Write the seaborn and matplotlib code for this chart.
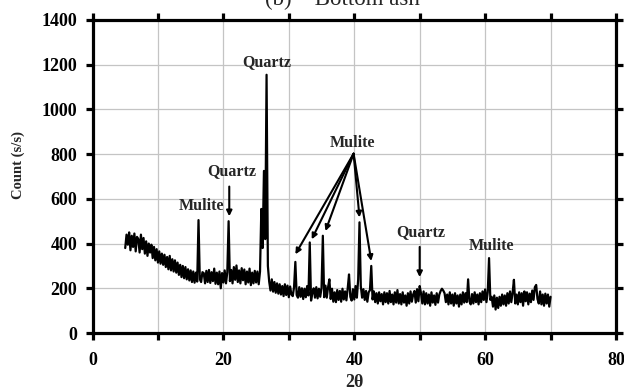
import numpy as np
import pandas as pd
import matplotlib
matplotlib.use("Agg")
import matplotlib.pyplot as plt
import seaborn as sns

# ---- data ----
scan_start = 5.0
scan_step = 0.2
counts = [
    380, 440, 395, 450, 370, 435, 385, 445, 365, 430,   # 5.0 - 6.8
    420, 360, 440, 375, 425, 355, 410, 345, 400, 360,   # 7.0 - 8.8
    395, 335, 385, 325, 375, 315, 365, 310, 355, 305,   # 9.0 - 10.8
    350, 295, 340, 285, 345, 280, 330, 275, 325, 270,   # 11.0 - 12.8
    315, 260, 305, 250, 300, 245, 295, 240, 285, 235,   # 13.0 - 14.8
    280, 228, 275, 225, 270, 230, 505, 240, 228, 272,   # 15.0 - 16.8
    268, 222, 278, 228, 282, 224, 272, 232, 288, 220,   # 17.0 - 18.8
    270, 218, 275, 200, 268, 226, 280, 222, 272, 500,   # 19.0 - 20.8
    232, 282, 222, 295, 238, 302, 228, 280, 222, 290,   # 21.0 - 22.8
    236, 284, 218, 275, 226, 288, 214, 270, 222, 278,   # 23.0 - 24.8
    226, 275, 218, 275, 555, 380, 725, 420, 1155, 300,  # 25.0 - 26.8
    230, 190, 240, 185, 228, 180, 222, 176, 218, 172,   # 27.0 - 28.8
    210, 165, 218, 170, 212, 160, 208, 172, 165, 205,   # 29.0 - 30.8
    318, 170, 158, 205, 162, 200, 152, 198, 160, 210,   # 31.0 - 32.8
    168, 405, 145, 180, 200, 158, 205, 155, 198, 162,   # 33.0 - 34.8
    202, 435, 160, 212, 158, 205, 240, 152, 198, 140,   # 35.0 - 36.8
    182, 138, 192, 148, 188, 140, 198, 150, 186, 146,   # 37.0 - 38.8
    200, 262, 162, 145, 196, 150, 210, 158, 240, 495,   # 39.0 - 40.8
    210, 158, 196, 148, 188, 140, 182, 192, 300, 150,   # 41.0 - 42.8
    186, 138, 178, 132, 182, 142, 174, 128, 182, 138,   # 43.0 - 44.8
    178, 132, 188, 138, 172, 128, 182, 136, 192, 132,   # 45.0 - 46.8
    174, 128, 182, 136, 168, 122, 178, 132, 186, 140,   # 47.0 - 48.8
    172, 188, 136, 196, 142, 210, 178, 132, 186, 128,   # 49.0 - 50.8
    178, 132, 172, 122, 182, 136, 168, 126, 178, 136,   # 51.0 - 52.8
    172, 188, 198, 190, 178, 138, 172, 128, 182, 132,   # 53.0 - 54.8
    172, 122, 178, 132, 168, 118, 172, 128, 182, 136,   # 55.0 - 56.8
    178, 138, 240, 142, 128, 174, 132, 182, 138, 172,   # 57.0 - 58.8
    128, 178, 138, 186, 148, 195, 138, 182, 335, 148,   # 59.0 - 60.8
    162, 118, 168, 105, 158, 112, 162, 122, 172, 128,   # 61.0 - 62.8
    168, 122, 178, 132, 186, 138, 180, 238, 132, 172,   # 63.0 - 64.8
    128, 182, 138, 178, 122, 186, 142, 182, 128, 176,   # 65.0 - 66.8
    138, 190, 148, 205, 215, 152, 132, 186, 128, 172,   # 67.0 - 68.8
    122, 176, 132, 172, 118, 162,                       # 69.0 - 70.0
]
two_theta = np.round(scan_start + scan_step * np.arange(len(counts)), 1)

x_ticks = [0, 20, 40, 60, 80]
y_ticks = [0, 200, 400, 600, 800, 1000, 1200, 1400]

df = pd.DataFrame({"two_theta": two_theta, "count": counts})

# ---- style ----
sns.set_style("white")
plt.rcParams["font.family"] = ["Liberation Serif", "DejaVu Serif"]

fig = plt.figure(figsize=(6.24, 3.92), dpi=100)
ax = fig.add_axes([92.5 / 624, 1 - 333 / 392, (616 - 92.5) / 624, (333 - 20) / 392])

sns.lineplot(data=df, x="two_theta", y="count", ax=ax, color="black",
             linewidth=1.6, estimator=None, sort=False)

ax.set_xlim(0, 80)
ax.set_ylim(0, 1400)
ax.set_xticks(np.arange(0, 81, 10))
ax.set_xticklabels([str(v) if v in x_ticks else "" for v in range(0, 81, 10)])
ax.set_yticks(y_ticks)
ax.set_yticklabels([str(v) for v in y_ticks])

ax.grid(True, color="#c4c4c4", linewidth=0.9)
ax.set_axisbelow(True)
for s in ax.spines.values():
    s.set_visible(True)
    s.set_linewidth(2.3)
    s.set_color("black")

ax.tick_params(axis="both", which="major", direction="out", length=5, width=2.3,
               top=True, right=True, bottom=True, left=True,
               labeltop=False, labelright=False, labelsize=13,
               colors="black")
ax.tick_params(axis="x", pad=9)
ax.tick_params(axis="y", pad=6)
for lab in ax.get_xticklabels() + ax.get_yticklabels():
    lab.set_fontweight("bold")

ax.set_xlabel("2θ", fontsize=13, fontweight="bold")
ax.xaxis.set_label_coords(0.5, -(374 - 333) / 313, transform=ax.transAxes)
ax.set_ylabel("Count (s/s)", fontsize=10.5, fontweight="bold")
ax.yaxis.set_label_coords(-(92.5 - 25) / 523.5, (333 - 165) / 313, transform=ax.transAxes)

# title, partly cut by the top edge as in the reference
fig.text(265 / 624, 1 - 5 / 392, "(b)    Bottom ash", fontsize=16.5,
         ha="left", va="baseline")

# ---- annotations ----
ann_kw = dict(fontsize=11.5, fontweight="bold", ha="center", va="center")
arrow = dict(arrowstyle="-|>", color="black", lw=1.5, mutation_scale=8,
             shrinkA=0, shrinkB=0)

ax.text(26.7, 1210, "Quartz", **ann_kw)
ax.text(16.6, 568, "Mulite", **ann_kw)
ax.text(21.3, 722, "Quartz", **ann_kw)
ax.annotate("", xy=(20.9, 522), xytext=(20.9, 655), arrowprops=arrow)

ax.text(39.8, 850, "Mulite", **ann_kw)
for tx, ty in [(31.0, 352), (33.5, 419), (35.6, 456), (40.8, 517), (42.6, 322)]:
    ax.annotate("", xy=(tx, ty), xytext=(39.9, 802), arrowprops=arrow)

ax.text(50.1, 452, "Quartz", **ann_kw)
ax.annotate("", xy=(50.0, 250), xytext=(50.0, 385), arrowprops=arrow)

ax.text(60.9, 388, "Mulite", **ann_kw)

fig.savefig("out.png", dpi=100)
